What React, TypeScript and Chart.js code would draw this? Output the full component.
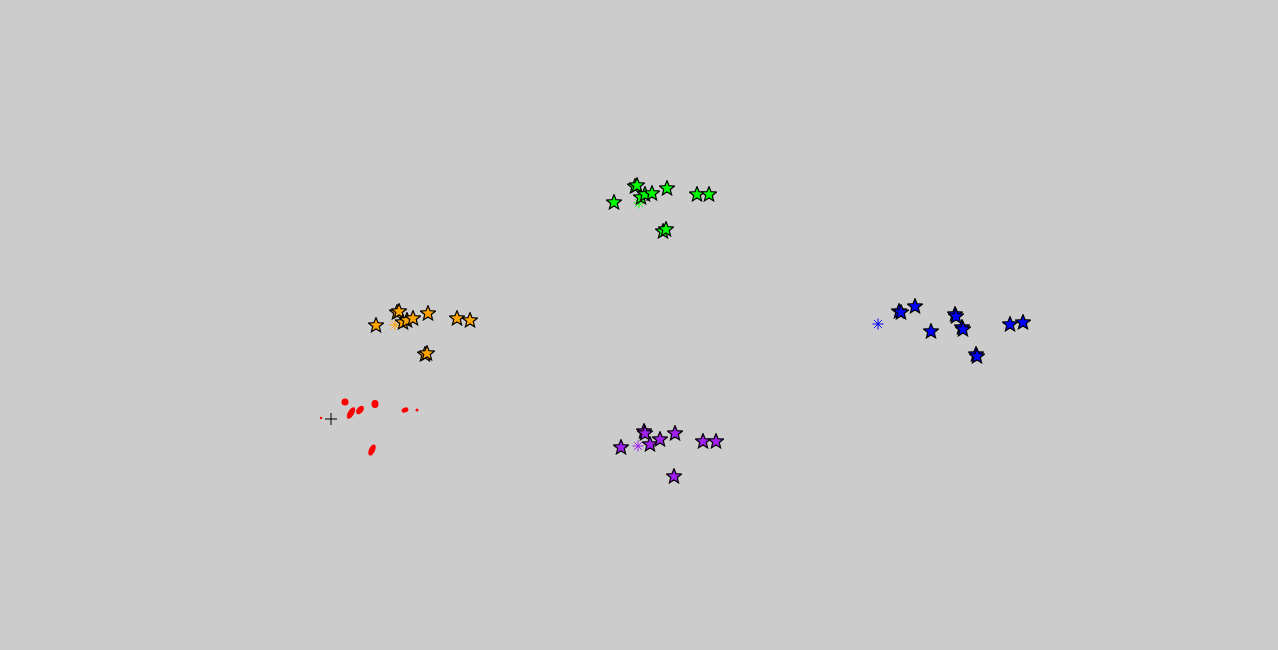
import React, { useEffect, useRef } from "react";
import { Chart, registerables } from "chart.js";

Chart.register(...registerables);

// Cluster member points (x, y in data units)
const greenX = [-0.25, -0.04, -0.02, 0.02, 0.06, 0.13, 0.28, 0.58, 0.70, 0.24, 0.27];
const greenY = [1.23, 1.39, 1.40, 1.28, 1.31, 1.32, 1.37, 1.31, 1.31, 0.94, 0.96];
const orangeX = [-2.63, -2.42, -2.40, -2.36, -2.32, -2.26, -2.11, -1.82, -1.69, -2.14, -2.12];
const orangeY = [0.0, 0.13, 0.14, 0.03, 0.05, 0.07, 0.12, 0.07, 0.05, -0.29, -0.28];
const blueX = [2.60, 2.62, 2.76, 2.92, 3.16, 3.17, 3.23, 3.24, 3.37, 3.38, 3.71, 3.84];
const blueY = [0.14, 0.13, 0.19, -0.06, 0.11, 0.09, -0.02, -0.04, -0.29, -0.31, 0.01, 0.03];
const purpleX = [-0.18, 0.05, 0.06, 0.11, 0.21, 0.36, 0.64, 0.77, 0.35];
const purpleY = [-1.22, -1.06, -1.08, -1.19, -1.14, -1.08, -1.16, -1.16, -1.51];
const redX = [-3.18, -2.94, -2.88, -2.79, -2.64, -2.34, -2.22, -2.67];
const redY = [-0.93, -0.77, -0.88, -0.85, -0.79, -0.85, -0.85, -1.25];

// Cluster centres
const centreNames = ["green", "orange", "blue", "purple", "red"];
const centreX = [0.0, -2.44, 2.39, -0.01, -3.08];
const centreY = [1.22, 0.0, 0.01, -1.21, -0.94];

// Styles
const colors: Record<string, string> = {
  green: "#00ff00",
  orange: "#ffa500",
  blue: "#0000ff",
  purple: "#a020f0",
  red: "#ff0000",
};
const redBlobW = [2.5, 7, 6, 6, 7, 7, 3, 6];
const redBlobH = [2.5, 7, 13, 10, 8, 5, 3, 12];
const redBlobRot = [0, 0, 30, 40, 0, -20, 0, 25];

function makeStar(fill: string): HTMLCanvasElement {
  const c = document.createElement("canvas");
  const s = 16;
  c.width = s;
  c.height = s;
  const ctx = c.getContext("2d")!;
  const cx = s / 2, cy = s / 2 + 0.5, R = 6.2, r = 2.7;
  ctx.beginPath();
  for (let i = 0; i < 10; i++) {
    const a = -Math.PI / 2 + (i * Math.PI) / 5;
    const rad = i % 2 === 0 ? R : r;
    const x = cx + rad * Math.cos(a);
    const y = cy + rad * Math.sin(a);
    if (i === 0) ctx.moveTo(x, y);
    else ctx.lineTo(x, y);
  }
  ctx.closePath();
  ctx.lineWidth = 2.4;
  ctx.lineJoin = "miter";
  ctx.strokeStyle = "#000";
  ctx.stroke();
  ctx.fillStyle = fill;
  ctx.fill();
  return c;
}

function makeBlob(w: number, h: number, rotDeg: number): HTMLCanvasElement {
  const c = document.createElement("canvas");
  const s = 18;
  c.width = s;
  c.height = s;
  const ctx = c.getContext("2d")!;
  ctx.translate(s / 2, s / 2);
  ctx.rotate((rotDeg * Math.PI) / 180);
  ctx.beginPath();
  ctx.ellipse(0, 0, w / 2, h / 2, 0, 0, Math.PI * 2);
  ctx.fillStyle = colors.red;
  ctx.fill();
  return c;
}

const zip = (xs: number[], ys: number[]) => xs.map((x, i) => ({ x, y: ys[i] }));

export default function App() {
  const ref = useRef<HTMLCanvasElement | null>(null);
  useEffect(() => {
    if (!ref.current) return;
    const starDs = (name: string, xs: number[], ys: number[]) => ({
      label: name,
      data: zip(xs, ys),
      pointStyle: makeStar(colors[name]),
      pointRadius: 7,
    });
    const centreDs = centreNames.map((name, i) => ({
      label: name + " centre",
      data: [{ x: centreX[i], y: centreY[i] }],
      pointStyle: name === "red" ? "cross" : "star",
      pointRadius: name === "red" ? 6 : 5.5,
      borderColor: name === "red" ? "#000" : colors[name],
      backgroundColor: "transparent",
      borderWidth: 1,
    }));
    const chart = new Chart(ref.current, {
      type: "scatter",
      data: {
        datasets: [
          starDs("green", greenX, greenY),
          starDs("orange", orangeX, orangeY),
          starDs("blue", blueX, blueY),
          starDs("purple", purpleX, purpleY),
          {
            label: "red",
            data: zip(redX, redY),
            pointStyle: redX.map((_, i) => makeBlob(redBlobW[i], redBlobH[i], redBlobRot[i])),
            pointRadius: 4,
          },
          ...centreDs,
        ] as any,
      },
      options: {
        responsive: false,
        animation: false,
        layout: { padding: 0, autoPadding: false },
        plugins: { legend: { display: false }, tooltip: { enabled: false } },
        scales: {
          x: { type: "linear", display: false, min: -6.39, max: 6.39 },
          y: { type: "linear", display: false, min: -3.25, max: 3.25 },
        },
      },
    });
    return () => chart.destroy();
  }, []);
  return (
    <div
      style={{
        position: "fixed",
        left: 0,
        top: 0,
        width: 1278,
        height: 650,
        background: "#cccccc",
      }}
    >
      <canvas ref={ref} width={1278} height={650} style={{ display: "block" }} />
    </div>
  );
}
